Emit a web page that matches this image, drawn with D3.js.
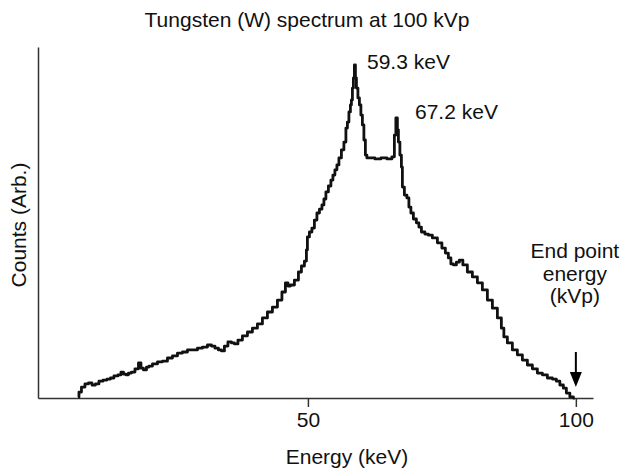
<!DOCTYPE html>
<html>
<head>
<meta charset="utf-8">
<script src="https://cdn.jsdelivr.net/npm/d3@7"></script>
<style>
  body { margin: 0; background: #fff; }
  text { font-family: "Liberation Sans", Arial, sans-serif; fill: #111; }
</style>
</head>
<body>
<div id="chart"></div>
<script>
// spectrum: energy (keV) and counts (arb., 0-100)
const energy = [7.09, 7.46, 8.02, 8.77, 9.33, 10.07, 10.63, 11.38, 12.13, 12.87, 13.43, 14.18, 14.93, 15.30, 15.86,
  16.23, 16.79, 17.35, 18.10, 18.66, 19.03, 19.59, 20.15, 20.52, 21.46, 22.39, 23.32, 24.25, 25.19, 26.12,
  27.05, 27.99, 28.92, 29.85, 30.78, 31.72, 32.28, 33.02, 33.58, 34.14, 34.70, 35.45, 36.01, 36.57, 37.31,
  38.25, 39.18, 40.11, 41.04, 41.98, 42.91, 43.84, 44.78, 45.52, 46.08, 46.46, 47.01, 47.95, 48.51, 49.07,
  49.63, 49.81, 50.00, 50.56, 50.93, 51.49, 51.87, 52.43, 52.80, 53.17, 53.54, 54.10, 54.48, 54.85, 55.22,
  55.60, 55.97, 56.53, 56.90, 57.28, 57.46, 57.84, 58.02, 58.21, 58.40, 58.58, 58.77, 58.96, 59.14, 59.52,
  59.70, 60.07, 60.26, 60.63, 60.82, 61.19, 61.94, 63.06, 64.18, 65.30, 66.04, 66.23, 66.60, 66.79, 66.98,
  67.35, 67.54, 67.72, 68.28, 68.66, 69.03, 69.40, 69.96, 70.52, 70.90, 71.46, 72.20, 72.76, 73.69, 74.63,
  75.37, 75.93, 76.49, 76.87, 77.43, 77.99, 78.54, 79.29, 80.22, 81.16, 82.09, 83.02, 83.96, 84.89, 85.82,
  86.38, 86.75, 87.69, 88.62, 89.55, 90.49, 91.42, 92.35, 93.28, 94.22, 95.15, 96.08, 96.64, 97.39, 97.95,
  98.51, 99.25, 99.81];
const counts = [0.3, 1.7, 3.1, 4.0, 4.3, 3.7, 4.0, 4.8, 5.1, 5.4, 5.7, 6.3, 6.6, 7.4, 6.8,
  6.6, 7.1, 7.4, 8.3, 10.0, 8.5, 8.0, 8.8, 9.1, 9.7, 10.3, 10.5, 11.4, 12.0, 12.8,
  13.1, 13.7, 13.7, 14.2, 14.5, 15.1, 14.8, 14.2, 13.7, 13.4, 14.8, 16.0, 15.7, 15.4, 16.5,
  17.7, 18.8, 19.9, 21.1, 22.8, 24.5, 25.9, 27.9, 30.2, 32.8, 31.9, 32.2, 33.6, 35.9, 37.6,
  39.0, 42.2, 45.9, 47.3, 48.4, 50.7, 52.7, 53.8, 55.0, 56.7, 58.7, 60.4, 62.1, 63.5, 65.0,
  66.4, 68.4, 70.7, 72.9, 76.9, 78.6, 81.5, 83.5, 84.9, 88.3, 91.2, 94.9, 91.2, 88.3, 85.5,
  83.5, 80.6, 77.8, 73.5, 69.2, 68.4, 68.4, 68.1, 68.4, 68.1, 68.7, 74.9, 79.8, 76.4, 72.9,
  69.2, 65.8, 60.1, 57.8, 57.0, 54.4, 52.7, 51.0, 49.9, 48.7, 47.3, 46.7, 46.4, 45.6, 44.2,
  42.7, 41.3, 39.9, 38.2, 37.9, 38.7, 39.3, 37.9, 35.9, 34.5, 32.8, 30.8, 27.9, 25.6, 22.8,
  19.9, 17.4, 15.7, 13.7, 12.3, 10.8, 9.4, 8.3, 7.1, 6.6, 5.7, 5.4, 4.8, 3.7, 2.8,
  1.4, 0.3, 0];
const xTicks = [50, 100];
const peakLabels = ["59.3 keV", "67.2 keV"];
const endLabel = ["End point", "energy", "(kVp)"];
const endEnergy = 100;

const width = 624, height = 469;
const margin = {top: 47, right: 31, bottom: 71, left: 38};

let svg = d3.select("#chart")
            .append("svg")
            .attr("width", width)
            .attr("height", height);

let x = d3.scaleLinear()
          .domain([-0.37, 103.2])
          .range([margin.left, width - margin.right]);

let y = d3.scaleLinear()
          .domain([0, 100])
          .range([height - margin.bottom, margin.top]);

let data = energy.map((e, i) => ({e: e, c: counts[i]}));

// axes
let xAxis = svg.append("g")
               .attr("transform", "translate(0," + (height - margin.bottom) + ")")
               .call(d3.axisBottom(x).tickValues(xTicks).tickSize(9).tickSizeOuter(0).tickPadding(5));
xAxis.selectAll("text").attr("font-size", 21).attr("font-family", "Liberation Sans, Arial, sans-serif");

let yAxis = svg.append("g")
               .attr("transform", "translate(" + margin.left + ",0)")
               .call(d3.axisLeft(y).tickValues([]).tickSizeOuter(0));

svg.selectAll(".domain, .tick line")
   .attr("stroke", "#333")
   .attr("stroke-width", 1.5);

// spectrum, drawn as a stepped histogram trace
let line = d3.line()
             .curve(d3.curveStep)
             .x(d => x(d.e))
             .y(d => y(d.c));

svg.append("path")
   .datum(data)
   .attr("d", line)
   .attr("fill", "none")
   .attr("stroke", "#111")
   .attr("stroke-width", 2.8)
   .attr("stroke-linejoin", "round");

// title and axis labels
svg.append("text")
   .attr("x", 307)
   .attr("y", 27)
   .attr("text-anchor", "middle")
   .attr("font-size", 21)
   .text("Tungsten (W) spectrum at 100 kVp");

svg.append("text")
   .attr("x", 347)
   .attr("y", 464)
   .attr("text-anchor", "middle")
   .attr("font-size", 21)
   .text("Energy (keV)");

svg.append("text")
   .attr("transform", "translate(26,225) rotate(-90)")
   .attr("text-anchor", "middle")
   .attr("font-size", 21)
   .text("Counts (Arb.)");

// peak annotations
svg.append("text")
   .attr("x", 367)
   .attr("y", 69)
   .attr("font-size", 21)
   .text(peakLabels[0]);

svg.append("text")
   .attr("x", 415)
   .attr("y", 119)
   .attr("font-size", 21)
   .text(peakLabels[1]);

// end point annotation
endLabel.forEach((t, i) => {
  svg.append("text")
     .attr("x", x(endEnergy) - 1)
     .attr("y", 258 + i * 22.5)
     .attr("text-anchor", "middle")
     .attr("font-size", 21)
     .text(t);
});

let ax = x(endEnergy);
svg.append("line")
   .attr("x1", ax).attr("x2", ax)
   .attr("y1", 352).attr("y2", 376)
   .attr("stroke", "#000")
   .attr("stroke-width", 2);

svg.append("path")
   .attr("d", "M" + (ax - 6) + ",372L" + (ax + 6) + ",372L" + ax + ",387Z")
   .attr("fill", "#000");
</script>
</body>
</html>
